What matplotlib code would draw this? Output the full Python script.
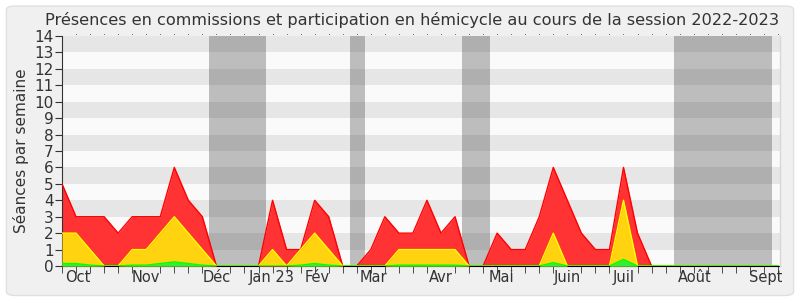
import matplotlib
matplotlib.use('Agg')
import matplotlib.pyplot as plt
from matplotlib.patches import FancyBboxPatch
import numpy as np

# weekly values, session 2022-2023 (52 weeks)
commission = [5, 3, 3, 3, 2, 3, 3, 3, 6, 4, 3, 0, 0, 0, 0, 4, 1, 1, 4, 3,
              0, 0, 1, 3, 2, 2, 4, 2, 3, 0, 0, 2, 1, 1, 3, 6, 4, 2, 1, 1,
              6, 2, 0, 0, 0, 0, 0, 0, 0, 0, 0, 0]
hemicycle = [2, 2, 1, 0, 0, 1, 1, 2, 3, 2, 1, 0, 0, 0, 0, 1, 0, 1, 2, 1,
             0, 0, 0, 0, 1, 1, 1, 1, 1, 0, 0, 0, 0, 0, 0, 2, 0, 0, 0, 0,
             4, 0, 0, 0, 0, 0, 0, 0, 0, 0, 0, 0]
interventions = [0.15, 0.15, 0.05, 0, 0, 0.05, 0.05, 0.15, 0.25, 0.15, 0.05, 0, 0, 0, 0, 0, 0, 0.05, 0.15, 0.05,
                 0, 0, 0, 0, 0.05, 0.05, 0.05, 0.05, 0.05, 0, 0, 0, 0, 0, 0, 0.2, 0, 0, 0, 0,
                 0.4, 0, 0, 0, 0, 0, 0, 0, 0, 0, 0, 0]
vacances = [(10.5, 14.5), (20.5, 21.6), (28.5, 30.5), (43.6, 50.6)]
mois = ['Oct', 'Nov', 'Déc', 'Jan 23', 'Fév', 'Mar', 'Avr', 'Mai', 'Juin', 'Juil', 'Août', 'Sept']
mois_pos = [1.1, 6.0, 11.0, 14.9, 18.2, 22.2, 27.0, 31.3, 36.0, 40.0, 45.1, 50.1]

x = np.arange(len(commission))

fig = plt.figure(figsize=(8, 3), dpi=100)
fig.patch.set_facecolor('white')
fig.patches.append(FancyBboxPatch((0.008, 0.015), 0.984, 0.965, boxstyle='round,pad=0,rounding_size=0.012',
                                  transform=fig.transFigure, facecolor='#f0f0f0', edgecolor='#e0e0e0',
                                  linewidth=1, zorder=-10))
ax = fig.add_axes([62/800, 1-266/300, 718/800, 230/300])
ax.set_facecolor('#fafafa')

for k in range(0, 14, 2):
    ax.axhspan(k+1, k+2, color='#e6e6e6', lw=0, zorder=0)
for a, b in vacances:
    ax.axvspan(a, b, color='#323232', alpha=0.3, lw=0, zorder=1)

ax.fill_between(x, commission, color='#ff3333', lw=0, zorder=2)
ax.plot(x, commission, color='#ff0000', lw=1, zorder=3)
ax.fill_between(x, hemicycle, color='#ffd30f', lw=0, zorder=4)
ax.plot(x, hemicycle, color='#ffff00', lw=1, zorder=5)
ax.fill_between(x, interventions, color='#33ee33', lw=0, zorder=6)
ax.plot(x, interventions, color='#00ff00', lw=1, zorder=7)

ax.set_xlim(0, 51.15)
ax.set_ylim(0, 14)
ax.set_yticks(range(15))
ax.set_xticks(x, minor=True)
ax.set_xticks(mois_pos)
ax.set_xticklabels(mois)
ax.tick_params(axis='x', which='major', length=0, labelsize=10.5, labelcolor='#333333', pad=3)
ax.tick_params(axis='x', which='minor', length=5, color='#333333', direction='out')
ax.tick_params(axis='y', length=5, labelsize=11, labelcolor='#333333', pad=1, color='#333333')

for s in ['top', 'right']:
    ax.spines[s].set_visible(False)
ax.spines['left'].set_color('#333333')
ax.spines['bottom'].set_color('#000000')
ax.plot([51.15, 51.15], [0, 14], color='#d8d8d8', lw=1, clip_on=False, zorder=8)

# dotted marks along the top
ax.plot(x[1:], [14.1]*(len(x)-1), linestyle='none', marker='s', markersize=0.5,
        markeredgewidth=0, color='#444444', clip_on=False)

ax.set_ylabel('Séances par semaine', fontsize=11, color='#333333', labelpad=4)
fig.text(0.515, 0.935, 'Présences en commissions et participation en hémicycle au cours de la session 2022-2023',
         ha='center', va='center', fontsize=11.6, color='#333333')

fig.savefig('out.png', dpi=100, facecolor=fig.get_facecolor())
